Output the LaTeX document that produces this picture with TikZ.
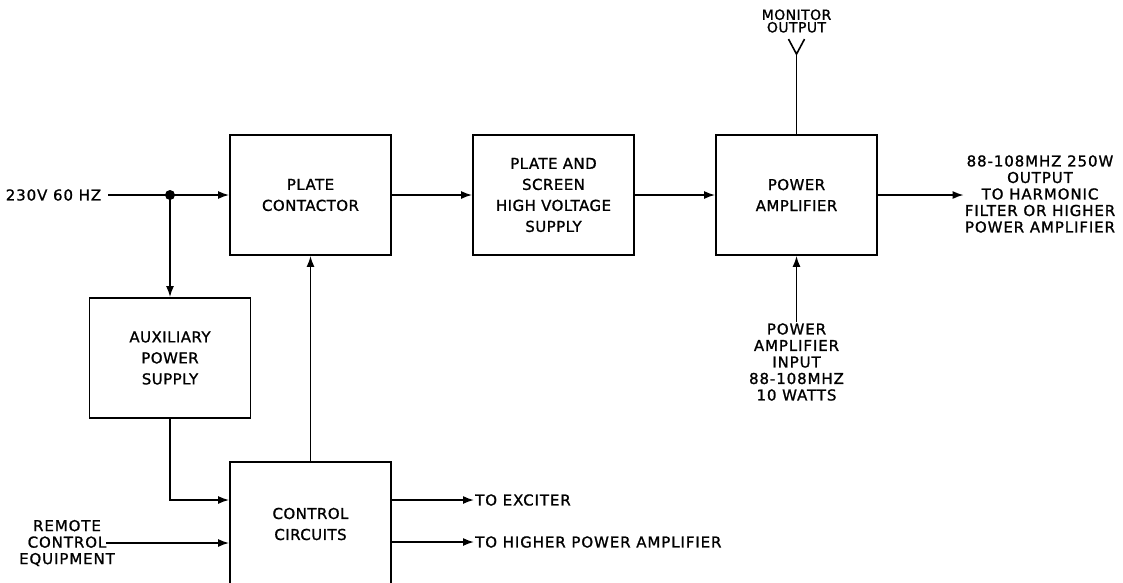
\documentclass[tikz,border=0pt]{standalone}
\usepackage{fontspec}
\setmainfont{DejaVu Sans}[FakeBold=1.2]
\usetikzlibrary{arrows.meta}

\begin{document}
\begin{tikzpicture}[x=1pt, y=-1pt,
    blk/.style={draw, line width=1.8pt, minimum width=161pt, minimum height=120pt,
      align=center, font=\fontsize{15}{21}\selectfont\addfontfeature{LetterSpace=3}},
    lbl/.style={align=center, inner sep=1pt,
      font=\fontsize{15}{16.5}\selectfont\addfontfeature{LetterSpace=6}},
    wire/.style={line width=1.6pt},
    arr/.style={wire, -{Latex[length=11pt,width=8pt]}}]

    \useasboundingbox (0,0) rectangle (1123,582);

    \node[blk] (plate) at (310.5,195) {PLATE\\CONTACTOR};
    \node[blk] (hv) at (553.5,195) {PLATE AND\\SCREEN\\HIGH VOLTAGE\\SUPPLY};
    \node[blk] (pa) at (796.5,195) {POWER\\AMPLIFIER};
    \node[blk] (aux) at (170,358) {AUXILIARY\\POWER\\SUPPLY};
    \node[blk, minimum height=124pt] (ctrl) at (310.5,524) {CONTROL\\CIRCUITS};

    \node[lbl] (mains) at (53.5,195) {230V 60 HZ};
    \node[lbl] (remote) at (67,543) {REMOTE\\CONTROL\\EQUIPMENT};
    \node[lbl] (out) at (1040,194) {88-108MHZ 250W\\OUTPUT\\TO HARMONIC\\FILTER OR HIGHER\\POWER AMPLIFIER};
    \node[lbl] (pain) at (796.5,362) {POWER\\AMPLIFIER\\INPUT\\88-108MHZ\\10 WATTS};
    \node[lbl, font=\fontsize{14}{12.5}\selectfont\addfontfeature{LetterSpace=3}] (mon) at (796.5,21) {MONITOR\\OUTPUT};
    \node[lbl, anchor=west] (exc) at (474,500) {TO EXCITER};
    \node[lbl, anchor=west] (hpa) at (474,542) {TO HIGHER POWER AMPLIFIER};

    % main chain
    \coordinate (split) at (170,195);
    \draw[arr] ([xshift=6pt]mains.east) -- (plate.west);
    \fill (split) circle[radius=5pt];
    \draw[arr] (split) -- (aux.north);
    \draw[arr] (plate) -- (hv);
    \draw[arr] (hv) -- (pa);
    \draw[arr] (pa.east) -- (pa.east -| out.west);

    % control
    \draw[arr] (aux.south) |- ([yshift=24pt]ctrl.west);
    \draw[arr] ([xshift=-10pt]remote.east) -- (ctrl.west |- remote.east);
    \draw[arr] (ctrl.north) -- (plate.south);
    \draw[arr] (ctrl.east |- exc.west) -- (exc.west);
    \draw[arr] (ctrl.east |- hpa.west) -- (hpa.west);

    % amplifier input and monitor
    \draw[arr] (pain.north) -- (pa.south);
    \draw[wire] (pa.north) -- ++(0,-80) coordinate (ant);
    \draw[wire] ([xshift=-8pt,yshift=15pt]ant) -- (ant) -- ([xshift=8pt,yshift=15pt]ant);

\end{tikzpicture}
\end{document}
